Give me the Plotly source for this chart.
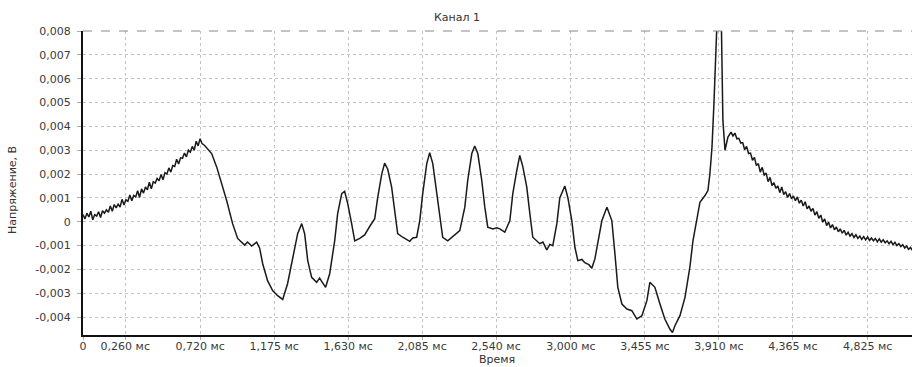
import plotly.graph_objects as go

# ---- data (time in ms, voltage in V) ----
time_ms = [
    # noisy rise to the first maximum
    0.000, 0.012, 0.024, 0.036, 0.048, 0.060, 0.072, 0.084, 0.096, 0.108,
    0.120, 0.132, 0.144, 0.156, 0.168, 0.180, 0.192, 0.204, 0.216, 0.228,
    0.240, 0.252, 0.264, 0.276, 0.288, 0.300, 0.312, 0.324, 0.336, 0.348,
    0.360, 0.372, 0.384, 0.396, 0.408, 0.420, 0.432, 0.444, 0.456, 0.468,
    0.480, 0.492, 0.504, 0.516, 0.528, 0.540, 0.552, 0.564, 0.576, 0.588,
    0.600, 0.612, 0.624, 0.636, 0.648, 0.660, 0.672, 0.684, 0.696, 0.708,
    0.720, 0.732,
    # oscillating middle part
    0.748, 0.772, 0.791, 0.822, 0.852, 0.883,
    0.920, 0.951, 0.994, 1.012, 1.037, 1.068, 1.086, 1.105, 1.135, 1.166,
    1.197, 1.215, 1.228, 1.258, 1.289, 1.320, 1.345, 1.363, 1.382, 1.406,
    1.437, 1.455, 1.468, 1.492, 1.517, 1.548, 1.566, 1.591, 1.609, 1.628,
    1.652, 1.671, 1.702, 1.732, 1.763, 1.794, 1.812, 1.837, 1.855, 1.874,
    1.898, 1.917, 1.935, 1.966, 1.991, 2.009, 2.028, 2.052, 2.071, 2.089,
    2.114, 2.132, 2.151, 2.175, 2.194, 2.212, 2.243, 2.262, 2.286, 2.317,
    2.348, 2.366, 2.391, 2.409, 2.428, 2.452, 2.471, 2.489, 2.520, 2.545,
    2.563, 2.594, 2.625, 2.643, 2.668, 2.686, 2.705, 2.729, 2.748, 2.766,
    2.809, 2.828, 2.852, 2.871, 2.889, 2.914, 2.932, 2.963, 2.982, 3.006,
    3.025, 3.043, 3.068, 3.086, 3.111, 3.129, 3.148, 3.166, 3.191, 3.222,
    3.252, 3.271, 3.289, 3.314, 3.345, 3.375, 3.406, 3.437, 3.468, 3.486,
    3.517, 3.548, 3.578, 3.609, 3.625, 3.640, 3.671, 3.702, 3.732, 3.751,
    3.775, 3.794, 3.825, 3.843, 3.855, 3.868, 3.880, 3.892, 3.905, 3.923,
    3.935, 3.948, 3.966,
    # noisy decay after the spike
    3.985, 3.997, 4.009, 4.021, 4.033, 4.045, 4.057, 4.069, 4.081, 4.093,
    4.105, 4.117, 4.129, 4.141, 4.153, 4.165, 4.177, 4.189, 4.201, 4.213,
    4.225, 4.237, 4.249, 4.261, 4.273, 4.285, 4.297, 4.309, 4.321, 4.333,
    4.345, 4.357, 4.369, 4.381, 4.393, 4.405, 4.417, 4.429, 4.441, 4.453,
    4.465, 4.477, 4.489, 4.501, 4.513, 4.525, 4.537, 4.549, 4.561, 4.573,
    4.585, 4.597, 4.609, 4.621, 4.633, 4.645, 4.657, 4.669, 4.681, 4.693,
    4.705, 4.717, 4.729, 4.741, 4.753, 4.765, 4.777, 4.789, 4.801, 4.813,
    4.825, 4.837, 4.849, 4.861, 4.873, 4.885, 4.897, 4.909, 4.921, 4.933,
    4.945, 4.957, 4.969, 4.981, 4.993, 5.005, 5.017, 5.029, 5.041, 5.053,
    5.065, 5.077, 5.089, 5.100,
]

voltage_v = [
    # noisy rise to the first maximum
    0.00030, 0.00012, 0.00036, 0.00020, 0.00044, 0.00008, 0.00030, 0.00024, 0.00042, 0.00018,
    0.00046, 0.00036, 0.00050, 0.00040, 0.00066, 0.00044, 0.00072, 0.00058, 0.00074, 0.00062,
    0.00094, 0.00070, 0.00092, 0.00086, 0.00112, 0.00088, 0.00110, 0.00104, 0.00130, 0.00102,
    0.00138, 0.00120, 0.00146, 0.00134, 0.00166, 0.00138, 0.00168, 0.00162, 0.00182, 0.00172,
    0.00198, 0.00176, 0.00206, 0.00200, 0.00226, 0.00208, 0.00236, 0.00232, 0.00262, 0.00242,
    0.00268, 0.00266, 0.00288, 0.00272, 0.00300, 0.00292, 0.00316, 0.00300, 0.00338, 0.00318,
    0.00348, 0.00328,
    # oscillating middle part
    0.00320, 0.00300, 0.00286, 0.00230, 0.00162, 0.00090,
    -0.00008, -0.00070, -0.00098, -0.00085, -0.00102, -0.00086, -0.00110, -0.00176, -0.00247, -0.00289,
    -0.00310, -0.00318, -0.00326, -0.00260, -0.00149, -0.00050, -0.00008, -0.00050, -0.00163, -0.00233,
    -0.00254, -0.00236, -0.00250, -0.00275, -0.00218, -0.00079, 0.00034, 0.00118, 0.00128, 0.00076,
    -0.00008, -0.00080, -0.00070, -0.00055, -0.00020, 0.00013, 0.00100, 0.00200, 0.00246, 0.00220,
    0.00145, 0.00047, -0.00050, -0.00065, -0.00075, -0.00082, -0.00068, -0.00065, 0.00005, 0.00118,
    0.00244, 0.00290, 0.00244, 0.00131, 0.00020, -0.00065, -0.00080, -0.00068, -0.00057, -0.00037,
    0.00061, 0.00174, 0.00286, 0.00318, 0.00286, 0.00174, 0.00061, -0.00023, -0.00030, -0.00025,
    -0.00030, -0.00044, 0.00005, 0.00118, 0.00216, 0.00278, 0.00230, 0.00145, 0.00034, -0.00065,
    -0.00092, -0.00085, -0.00118, -0.00095, -0.00100, -0.00008, 0.00100, 0.00150, 0.00100, 0.00005,
    -0.00107, -0.00163, -0.00158, -0.00172, -0.00180, -0.00195, -0.00155, -0.00080, 0.00005, 0.00061,
    0.00005, -0.00134, -0.00275, -0.00345, -0.00366, -0.00373, -0.00408, -0.00394, -0.00330, -0.00254,
    -0.00275, -0.00345, -0.00408, -0.00450, -0.00465, -0.00436, -0.00394, -0.00317, -0.00190, -0.00080,
    0.00005, 0.00082, 0.00110, 0.00131, 0.00200, 0.00313, 0.00496, 0.00706, 0.00950, 0.00950,
    0.00426, 0.00300, 0.00355,
    # noisy decay after the spike
    0.00376, 0.00360, 0.00372, 0.00348, 0.00350, 0.00330, 0.00332, 0.00302, 0.00316, 0.00286,
    0.00288, 0.00258, 0.00270, 0.00236, 0.00244, 0.00208, 0.00228, 0.00196, 0.00204, 0.00168,
    0.00186, 0.00152, 0.00164, 0.00140, 0.00150, 0.00122, 0.00146, 0.00114, 0.00126, 0.00102,
    0.00118, 0.00096, 0.00108, 0.00088, 0.00104, 0.00078, 0.00090, 0.00066, 0.00084, 0.00054,
    0.00066, 0.00044, 0.00056, 0.00028, 0.00042, 0.00014, 0.00028, -0.00002, 0.00012, -0.00016,
    -0.00002, -0.00026, -0.00012, -0.00034, -0.00022, -0.00042, -0.00030, -0.00048, -0.00036, -0.00056,
    -0.00044, -0.00060, -0.00050, -0.00066, -0.00054, -0.00070, -0.00060, -0.00074, -0.00062, -0.00076,
    -0.00064, -0.00078, -0.00068, -0.00080, -0.00070, -0.00084, -0.00072, -0.00086, -0.00076, -0.00088,
    -0.00080, -0.00092, -0.00082, -0.00096, -0.00086, -0.00100, -0.00092, -0.00104, -0.00096, -0.00110,
    -0.00102, -0.00116, -0.00108, -0.00120,
]

x_tick_vals = [0, 0.26, 0.72, 1.175, 1.63, 2.085, 2.54, 3.0, 3.455, 3.91, 4.365, 4.825]
x_tick_text = ["0", "0,260 мс", "0,720 мс", "1,175 мс", "1,630 мс", "2,085 мс",
               "2,540 мс", "3,000 мс", "3,455 мс", "3,910 мс", "4,365 мс", "4,825 мс"]
y_tick_vals = [-0.004, -0.003, -0.002, -0.001, 0, 0.001, 0.002, 0.003, 0.004,
               0.005, 0.006, 0.007, 0.008]
y_tick_text = ["-0,004", "-0,003", "-0,002", "-0,001", "0", "0,001", "0,002", "0,003",
               "0,004", "0,005", "0,006", "0,007", "0,008"]

chart_title = "Канал 1"
x_title = "Время"
y_title = "Напряжение, В"

FONT = "DejaVu Sans"
TICK_FONT = dict(family=FONT, size=11, color="#3a3a3a")
GRID = "#c2c2c2"

fig = go.Figure()
fig.add_trace(go.Scatter(
    x=time_ms, y=voltage_v, mode="lines",
    line=dict(color="#1a1a1a", width=1.5),
    hoverinfo="skip",
))

fig.update_layout(
    width=912, height=367,
    margin=dict(l=83, r=0, t=31, b=32),
    paper_bgcolor="white", plot_bgcolor="white",
    showlegend=False,
    title=dict(text=chart_title, x=(457 - 83) / 829, xref="paper", xanchor="center",
               y=1 - 17 / 367, yref="container", yanchor="middle",
               font=dict(family=FONT, size=11, color="#333")),
    xaxis=dict(
        range=[0, 5.098], tickmode="array", tickvals=x_tick_vals, ticktext=x_tick_text,
        showgrid=True, gridcolor=GRID, griddash="dot", gridwidth=1,
        showline=True, linecolor="#111", linewidth=2,
        ticks="outside", ticklen=3, tickcolor="#aaa", ticklabelstandoff=-3,
        tickfont=TICK_FONT, zeroline=False, fixedrange=True,
    ),
    yaxis=dict(
        range=[-0.00475, 0.008], tickmode="array", tickvals=y_tick_vals, ticktext=y_tick_text,
        showgrid=True, gridcolor=GRID, griddash="dot", gridwidth=1,
        showline=True, linecolor="#111", linewidth=2,
        ticks="outside", ticklen=4, tickcolor="#aaa", ticklabelstandoff=4,
        tickfont=TICK_FONT, zeroline=False, fixedrange=True,
    ),
    shapes=[dict(type="line", xref="paper", yref="paper", x0=0, x1=1, y0=1, y1=1,
                 line=dict(color="#888", width=1, dash="dash"))],
    annotations=[
        dict(text=y_title, xref="paper", yref="paper", x=0, y=(335 - 190) / 304,
             xshift=-71, xanchor="center", yanchor="middle", textangle=-90,
             showarrow=False, font=dict(family=FONT, size=11, color="#333")),
        dict(text=x_title, xref="paper", yref="paper", x=(497 - 83) / 829, y=0,
             yshift=-24, xanchor="center", yanchor="middle",
             showarrow=False, font=dict(family=FONT, size=11, color="#333")),
    ],
)

fig.write_html("out.html")
